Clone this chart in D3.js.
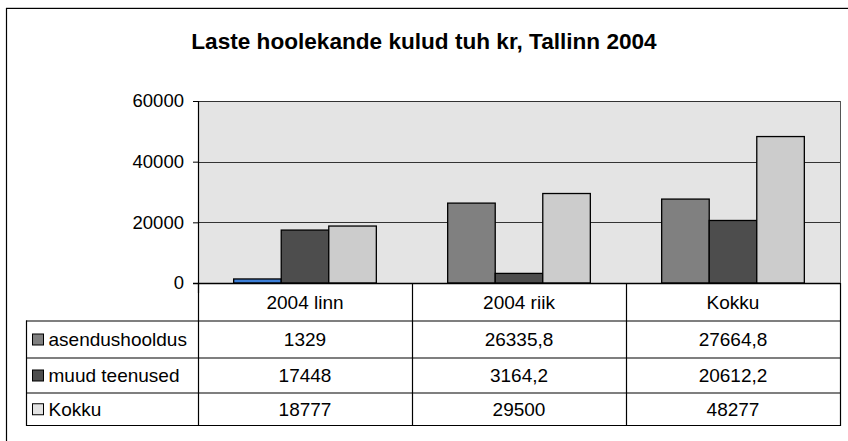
<!DOCTYPE html>
<html><head><meta charset="utf-8">
<script src="https://cdn.jsdelivr.net/npm/d3@7"></script>
<style>body{margin:0;background:#fff}svg{display:block;font-family:"Liberation Sans",Arial,sans-serif}</style>
</head><body><svg id="c" width="848" height="441"></svg>
<script>
const title = "Laste hoolekande kulud tuh kr, Tallinn 2004";
const categories = ["2004 linn", "2004 riik", "Kokku"];
const seriesNames = ["asendushooldus", "muud teenused", "Kokku"];
const asendushooldus = [1329, 26335.8, 27664.8];
const muudTeenused = [17448, 3164.2, 20612.2];
const kokku = [18777, 29500, 48277];
const yTicks = [0, 20000, 40000, 60000];
const seriesValues = [asendushooldus, muudTeenused, kokku];
const barColors = ["#808080", "#4d4d4d", "#cccccc"];
const keyColors = ["#808080", "#4d4d4d", "#e3e3e3"];
const highlightColor = "#3d7fd8"; // selected first point in reference

const svg = d3.select("#c");
svg.append("line").attr("x1",6).attr("x2",848).attr("y1",7.5).attr("y2",7.5).attr("stroke","#c8c8c8");
svg.append("path").attr("d","M6.5,441 V8.5 H848").attr("fill","none").attr("stroke","#000").attr("stroke-width",1.2);

svg.append("text").attr("x",424).attr("y",49).attr("text-anchor","middle")
  .attr("font-size",22.6).attr("font-weight","bold").attr("fill","#000").text(title);

const L=198, R=840, T=101, B=283;
const x = d3.scaleBand().domain(categories).range([L,R]);
const y = d3.scaleLinear().domain([0,60000]).range([B,T]);
const inner = d3.scaleBand().domain(d3.range(3)).range([0, x.bandwidth()]).paddingInner(0).paddingOuter(0.75);

svg.append("rect").attr("x",L).attr("y",T).attr("width",R-L).attr("height",B-T).attr("fill","#e4e4e4");
svg.append("g").selectAll("line").data(yTicks.filter(d=>d>0)).join("line")
  .attr("x1",L).attr("x2",R).attr("y1",d=>Math.round(y(d))+0.5).attr("y2",d=>Math.round(y(d))+0.5)
  .attr("stroke","#333").attr("stroke-width",1);
svg.append("line").attr("x1",R+0.5).attr("x2",R+0.5).attr("y1",T).attr("y2",B).attr("stroke","#555");

const bars = [];
categories.forEach((c,ci)=>seriesValues.forEach((vals,si)=>bars.push({c,ci,si,v:vals[ci]})));
svg.append("g").selectAll("rect").data(bars).join("rect")
  .attr("x",d=>x(d.c)+inner(d.si)).attr("width",inner.bandwidth())
  .attr("y",d=>y(d.v)).attr("height",d=>B-y(d.v))
  .attr("fill",d=>(d.ci===0&&d.si===0)?highlightColor:barColors[d.si])
  .attr("stroke","#000").attr("stroke-width",1.3);

const ax = svg.append("g").attr("transform",`translate(${L},0)`)
  .call(d3.axisLeft(y).tickValues(yTicks).tickSize(5).tickPadding(6).tickFormat(d3.format("d")));
ax.select(".domain").remove();
ax.selectAll(".tick line").attr("stroke","#000");
ax.selectAll(".tick text").attr("font-size",18.5).attr("font-family","Liberation Sans, Arial, sans-serif").attr("fill","#000").attr("dx",-3);
svg.append("line").attr("x1",L+0.5).attr("x2",L+0.5).attr("y1",T).attr("y2",B+10).attr("stroke","#000").attr("stroke-width",1.2);
svg.append("line").attr("x1",L-5).attr("x2",R).attr("y1",B+0.5).attr("y2",B+0.5).attr("stroke","#000").attr("stroke-width",1.3);

const rowY = [283, 320.5, 357.5, 392.5, 425];
const TL = 26;
const g = svg.append("g").attr("stroke","#000").attr("stroke-width",1.2);
for (let i=1;i<rowY.length;i++){
  g.append("line").attr("x1",TL).attr("x2",R+1).attr("y1",rowY[i]+0.5).attr("y2",rowY[i]+0.5);
}
g.append("line").attr("x1",TL+0.5).attr("x2",TL+0.5).attr("y1",rowY[1]).attr("y2",rowY[4]+1);
categories.forEach(c=>{
  g.append("line").attr("x1",Math.round(x(c))+0.5).attr("x2",Math.round(x(c))+0.5).attr("y1",B).attr("y2",rowY[4]+1);
});
g.append("line").attr("x1",R+0.5).attr("x2",R+0.5).attr("y1",B).attr("y2",rowY[4]+1);

const fs = 19;
svg.append("g").selectAll("text").data(categories).join("text")
  .attr("x",d=>x(d)+x.bandwidth()/2).attr("y",(rowY[0]+rowY[1])/2+7)
  .attr("text-anchor","middle").attr("font-size",fs).text(d=>d);

const fmt = v => String(v).replace(".", ",");
seriesNames.forEach((name,si)=>{
  const yc = (rowY[si+1]+rowY[si+2])/2;
  svg.append("rect").attr("x",32.5).attr("y",yc-5).attr("width",11).attr("height",11)
    .attr("fill",keyColors[si]).attr("stroke","#000").attr("stroke-width",1);
  svg.append("text").attr("x",48.5).attr("y",yc+7).attr("font-size",fs).text(name);
  categories.forEach((c,ci)=>{
    svg.append("text").attr("x",x(c)+x.bandwidth()/2).attr("y",yc+7)
      .attr("text-anchor","middle").attr("font-size",fs).text(fmt(seriesValues[si][ci]));
  });
});
</script></body></html>
